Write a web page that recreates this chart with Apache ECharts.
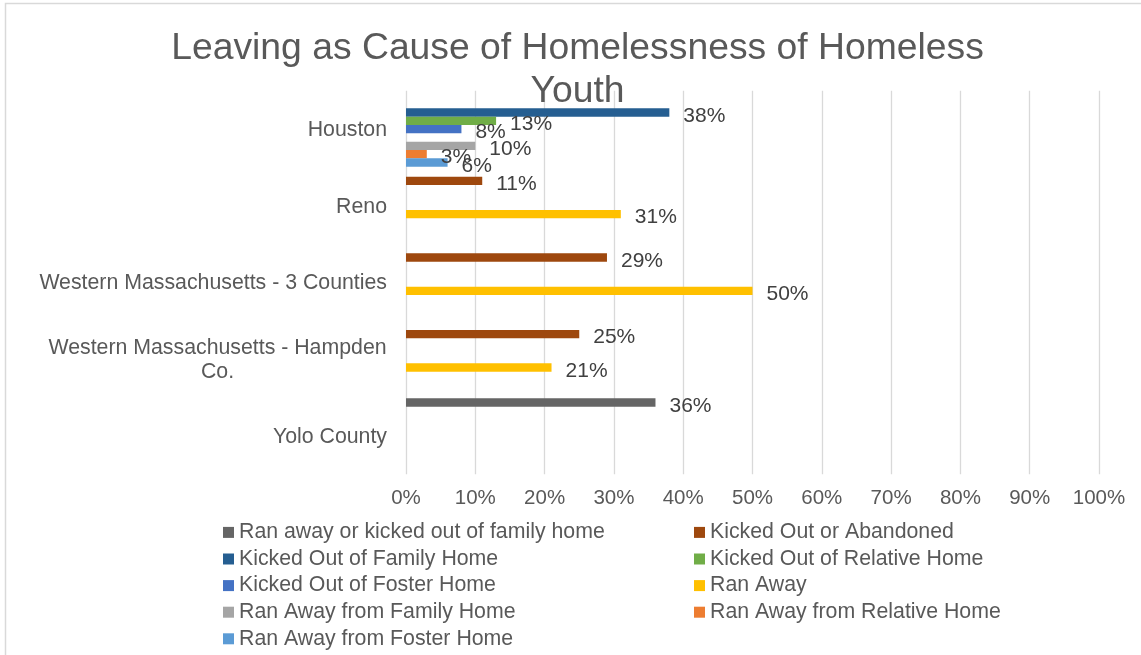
<!DOCTYPE html>
<html>
<head>
<meta charset="utf-8">
<script src="https://cdn.jsdelivr.net/npm/echarts@6/dist/echarts.min.js"></script>
<style>
  html, body { margin: 0; padding: 0; background: #fff; }
  #chart { width: 1141px; height: 655px; }
</style>
</head>
<body>
<div id="chart"></div>
<script>
// Locations (top to bottom)
const categories = [
  'Houston',
  'Reno',
  'Western Massachusetts - 3 Counties',
  'Western Massachusetts - Hampden\nCo.',
  'Yolo County'
];

// Reason series, percent of homeless youth (null = not reported)
const ranAwayOrKickedOutFamily = [null, null, null, null, 36];
const kickedOutOrAbandoned     = [null, 11, 29, 25, null];
const kickedOutFamilyHome      = [38, null, null, null, null];
const kickedOutRelativeHome    = [13, null, null, null, null];
const kickedOutFosterHome      = [8, null, null, null, null];
const ranAway                  = [null, 31, 50, 21, null];
const ranAwayFamilyHome        = [10, null, null, null, null];
const ranAwayRelativeHome      = [3, null, null, null, null];
const ranAwayFosterHome        = [6, null, null, null, null];

const xTicks = [0, 10, 20, 30, 40, 50, 60, 70, 80, 90, 100];

const seriesDefs = [
  { name: 'Ran away or kicked out of family home', data: ranAwayOrKickedOutFamily, color: '#656565' },
  { name: 'Kicked Out or Abandoned',               data: kickedOutOrAbandoned,     color: '#9E480E' },
  { name: 'Kicked Out of Family Home',             data: kickedOutFamilyHome,      color: '#255E91' },
  { name: 'Kicked Out of Relative Home',           data: kickedOutRelativeHome,    color: '#70AD47' },
  { name: 'Kicked Out of Foster Home',             data: kickedOutFosterHome,      color: '#4472C4' },
  { name: 'Ran Away',                              data: ranAway,                  color: '#FFC000' },
  { name: 'Ran Away from Family Home',             data: ranAwayFamilyHome,        color: '#A5A5A5' },
  { name: 'Ran Away from Relative Home',           data: ranAwayRelativeHome,      color: '#ED7D31' },
  { name: 'Ran Away from Foster Home',             data: ranAwayFosterHome,        color: '#5B9BD5' }
];

const FONT = '"Liberation Sans", Arial, sans-serif';
const TEXT = '#595959';
const CAT_FONT_SIZE = 21.3;

// Width of the widest line among wrapped category labels, so that the
// wrapped lines can be centred on each other inside a right-aligned block
const measureCtx = document.createElement('canvas').getContext('2d');
measureCtx.font = CAT_FONT_SIZE + 'px ' + FONT;
let wrapWidth = 0;
categories.forEach(c => {
  if (c.indexOf('\n') >= 0) {
    c.split('\n').forEach(line => {
      wrapWidth = Math.max(wrapWidth, Math.ceil(measureCtx.measureText(line).width));
    });
  }
});

const chart = echarts.init(document.getElementById('chart'), null, { renderer: 'canvas' });

// Legend laid out in two columns, filled row by row
const leftNames = seriesDefs.filter((_, i) => i % 2 === 0).map(s => s.name);
const rightNames = seriesDefs.filter((_, i) => i % 2 === 1).map(s => s.name);

const legendBase = {
  orient: 'vertical',
  top: 521.4,
  padding: 0,
  icon: 'rect',
  itemWidth: 11,
  itemHeight: 11,
  itemGap: 4.6,
  textStyle: { fontFamily: FONT, fontSize: 21.3, lineHeight: 22, color: TEXT }
};

chart.setOption({
  backgroundColor: '#ffffff',
  animation: false,
  title: {
    text: 'Leaving as Cause of Homelessness of Homeless\nYouth',
    left: 572.5,
    top: 22,
    textAlign: 'center',
    textStyle: { fontFamily: FONT, fontSize: 37.3, lineHeight: 43, fontWeight: 'normal', color: TEXT }
  },
  graphic: [{
    type: 'rect',
    shape: { x: 5.5, y: 3.5, width: 1200, height: 700 },
    style: { fill: 'none', stroke: '#D9D9D9', lineWidth: 1.5 },
    silent: true
  }],
  legend: [
    Object.assign({}, legendBase, { left: 223, data: leftNames }),
    Object.assign({}, legendBase, { left: 694, data: rightNames })
  ],
  grid: { left: 406, right: 42, top: 90.8, height: 383.4, containLabel: false },
  xAxis: {
    type: 'value',
    min: xTicks[0],
    max: xTicks[xTicks.length - 1],
    interval: 10,
    axisLine: { show: false },
    axisTick: { show: false },
    splitLine: { show: true, lineStyle: { color: '#D9D9D9', width: 1.3 } },
    axisLabel: {
      margin: 14,
      fontFamily: FONT, fontSize: 20.5, color: TEXT,
      formatter: v => v + '%'
    }
  },
  yAxis: {
    type: 'category',
    inverse: true,
    data: categories,
    axisLine: { show: false },
    axisTick: { show: false },
    axisLabel: {
      margin: 19,
      align: 'right',
      padding: [2, 0, 0, 0],
      fontFamily: FONT, fontSize: CAT_FONT_SIZE, lineHeight: 24, color: TEXT,
      formatter: v => v.indexOf('\n') >= 0
        ? v.split('\n').map(line => '{w|' + line + '}').join('\n')
        : v,
      rich: {
        w: {
          width: wrapWidth,
          align: 'center',
          fontFamily: FONT, fontSize: CAT_FONT_SIZE, lineHeight: 24, color: TEXT
        }
      }
    }
  },
  series: seriesDefs.map(s => ({
    type: 'bar',
    name: s.name,
    data: s.data,
    barGap: '0%',
    barCategoryGap: '2.2%',
    itemStyle: { color: s.color },
    label: {
      show: true,
      position: 'right',
      distance: 14,
      offset: [0, 3.5],
      fontFamily: FONT, fontSize: 21, color: '#404040',
      formatter: p => p.value + '%'
    }
  }))
});
</script>
</body>
</html>
